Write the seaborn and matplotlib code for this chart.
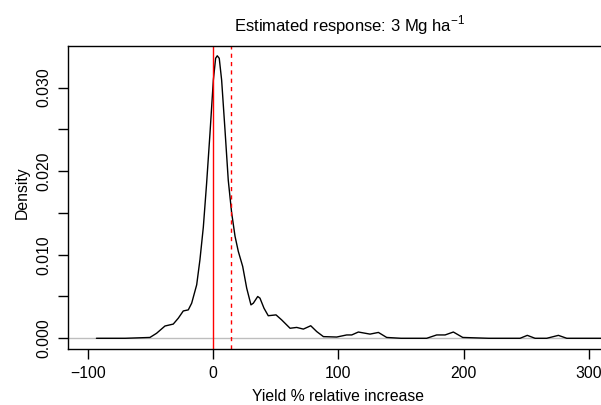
import pandas as pd
import seaborn as sns
import matplotlib.pyplot as plt

# density curve (yield % relative increase vs density)
yield_pct = [-93, -70, -50.3, -45, -38.3, -31.7, -27.7, -23.7, -19.7, -17, -13, -10.4,
             -7.7, -5.1, -2.4, 0.3, 2.1, 3.4, 5, 6.9, 9.6, 12.2, 14.9, 17.6, 20.2, 23.7,
             26.9, 30.3, 32.2, 35.7, 37.5, 40.7, 44.1, 50.3, 54.8, 61.5, 66.8, 72.1, 78,
             82.8, 88.1, 98.7, 106.7, 110.7, 116, 125.3, 132, 138.6, 150, 170.5, 178.5,
             185.2, 191.8, 199.3, 220, 245, 250.8, 257, 266.3, 275.6, 282.3, 300, 320]
density = [0.0, 0.0, 0.0001, 0.0006, 0.00147, 0.0017, 0.0024, 0.00327, 0.0034, 0.0042,
           0.0064, 0.0094, 0.0133, 0.0185, 0.0245, 0.0309, 0.0335, 0.0338, 0.0335, 0.0309,
           0.0249, 0.0189, 0.0150, 0.0122, 0.0104, 0.0086, 0.0060, 0.0040, 0.0042, 0.0050,
           0.0048, 0.0036, 0.0027, 0.0028, 0.0022, 0.0012, 0.0013, 0.0011, 0.0015, 0.0008,
           0.0002, 0.00015, 0.0004, 0.0004, 0.00075, 0.0005, 0.0007, 0.0001, 0.0, 0.0,
           0.0004, 0.0004, 0.00075, 0.0001, 0.0, 0.0, 0.00035, 0.0, 0.0, 0.00035, 0.0,
           0.0, 0.0]

no_change = 0
mean_response = 14.6
x_ticks = [-100, 0, 100, 200, 300]
x_ticklabels = ["\u2212100", "0", "100", "200", "300"]
y_ticks = [0.000, 0.005, 0.010, 0.015, 0.020, 0.025, 0.030]
y_ticklabels = ["0.000", "", "0.010", "", "0.020", "", "0.030"]

sns.set_style("ticks")
plt.rcParams['font.family'] = ['Liberation Sans', 'DejaVu Sans']
plt.rcParams['mathtext.fontset'] = 'custom'
plt.rcParams['mathtext.rm'] = 'Liberation Sans'
plt.rcParams['text.color'] = 'black'
plt.rcParams['axes.labelcolor'] = 'black'
plt.rcParams['xtick.color'] = 'black'
plt.rcParams['ytick.color'] = 'black'

df = pd.DataFrame({"x": yield_pct, "y": density})

fig = plt.figure(figsize=(6.01, 4.05), dpi=100)
ax = fig.add_axes([0.1131, 0.1383, 0.8869, 0.7481])

ax.axhline(0, color="#bebebe", lw=1, zorder=1)
sns.lineplot(data=df, x="x", y="y", sort=False, estimator=None, color="black", lw=1, ax=ax, zorder=2)
ax.axvline(no_change, color="red", lw=1)
ax.axvline(mean_response, color="red", lw=1, ls=(0, (3, 3)))

ax.set_xlim(-115.7, 309.6)
ax.set_ylim(-0.00128, 0.03497)
ax.set_xticks(x_ticks)
ax.set_xticklabels(x_ticklabels)
ax.set_yticks(y_ticks)
ax.set_yticklabels(y_ticklabels, rotation=90, va="center")
ax.tick_params(axis="both", direction="out", length=7, width=1, labelsize=11.3, pad=5)
for s in ["left", "bottom", "top"]:
    ax.spines[s].set_linewidth(1)
    ax.spines[s].set_color("black")
ax.spines["right"].set_visible(False)

ax.set_xlabel("Yield % relative increase", fontsize=11.3)
ax.xaxis.set_label_coords(0.5066, -0.158)
ax.xaxis.label.set_va("center")
ax.set_ylabel("Density", fontsize=11.3)
ax.yaxis.set_label_coords(-0.0863, 0.515)
ax.yaxis.label.set_va("center")
ax.set_title("Estimated response: 3 Mg ha$^{-1}$", fontsize=12, x=0.529, y=1.0495,
             va="baseline", pad=0)

fig.savefig("out.png", dpi=100)
